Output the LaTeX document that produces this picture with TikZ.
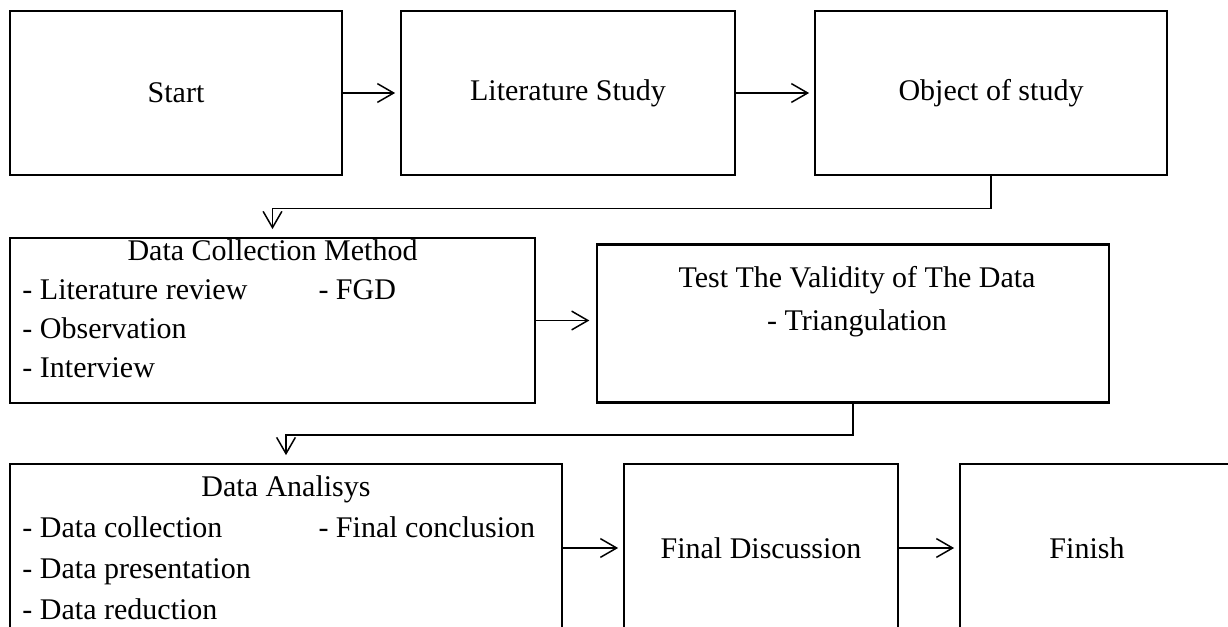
\documentclass[tikz,border=0pt]{standalone}
\usepackage{fontspec}
\setmainfont{Liberation Serif}
\usetikzlibrary{arrows.meta}

\tikzset{
  box/.style={draw, line width=1.1pt, inner sep=0pt, align=center},
  conn/.style={line width=0.6pt, -{Straight Barb[length=6.5pt,width=7.5pt]}, shorten >=1.8pt},
  item/.style={inner sep=0pt, anchor=base west},
  head/.style={inner sep=0pt, anchor=base},
}

\begin{document}
\begin{tikzpicture}[x=0.4pt, y=-0.4pt, font=\fontsize{12}{15.6}\selectfont]
\useasboundingbox (0,0) rectangle (1228,627);
\clip (0,0) rectangle (1228,627);

% first row
\node[box, minimum width=332*0.4pt, minimum height=164*0.4pt] (start) at (176,93) {Start};
\node[box, minimum width=334*0.4pt, minimum height=164*0.4pt] (lit) at (568,93) {Literature Study};
\node[box, minimum width=352*0.4pt, minimum height=164*0.4pt] (obj) at (991,93) {Object of study};

% second row
\node[box, minimum width=525*0.4pt, minimum height=165*0.4pt] (dcm) at (272.5,320.5) {};
\node[head] (dcmtitle) at (272.5,260) {Data Collection Method};
\node[item] (dcm1) at (22,299) {- Literature review};
\node[item] (dcm4) at (318,299) {- FGD};
\node[item] (dcm2) at (22,338) {- Observation};
\node[item] (dcm3) at (22,377) {- Interview};
\node[box, minimum width=512*0.4pt, minimum height=158*0.4pt] (tv) at (853,323.5) {};
\node[head] (tvtitle) at (857,287) {Test The Validity of The Data};
\node[head] (tv1) at (857,330) {- Triangulation};

% third row
\node[box, minimum width=552*0.4pt, minimum height=168*0.4pt] (da) at (286,548) {};
\node[head] (datitle) at (286,496) {Data Analisys};
\node[item] (da1) at (22,537) {- Data collection};
\node[item] (da4) at (318,537) {- Final conclusion};
\node[item] (da2) at (22,578) {- Data presentation};
\node[item] (da3) at (22,619) {- Data reduction};
\node[box, minimum width=274*0.4pt, minimum height=168*0.4pt] (fd) at (761,548) {Final Discussion};
\node[box, minimum width=280*0.4pt, minimum height=168*0.4pt] (fin) at (1100,548) {};
\node (fintext) at (1087,548) {Finish};

% connectors
\draw[conn] (start) -- (lit);
\draw[conn] (lit) -- (obj);
\draw[conn, shorten >=3pt] (obj.south) -- ++(0,32) -| (dcm.north);
\draw[conn, shorten >=2.5pt] (dcm.east) -- (dcm.east -| tv.west);
\draw[conn, shorten >=3pt] (tv.south) -- ++(0,31) -| (da.north);
\draw[conn] (da) -- (fd);
\draw[conn] (fd) -- (fin);
\end{tikzpicture}
\end{document}
